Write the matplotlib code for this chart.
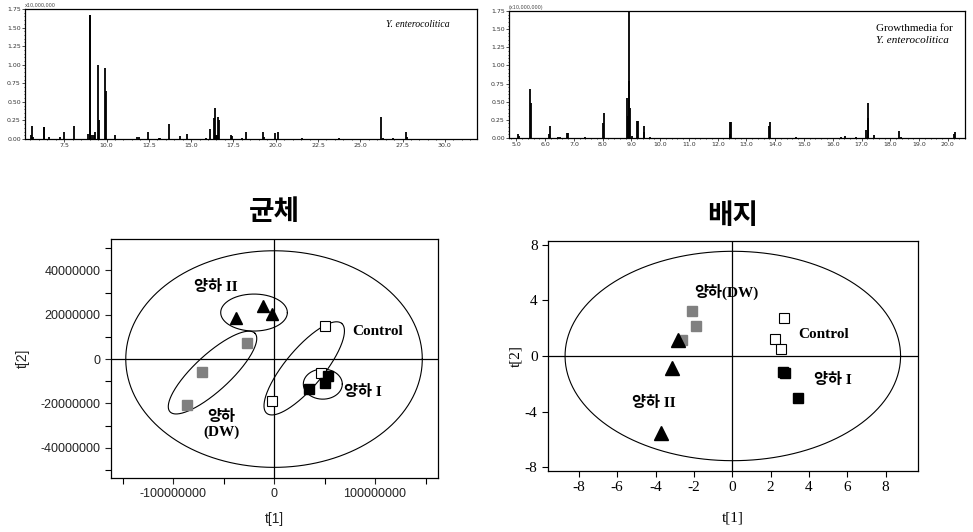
import numpy as np
import matplotlib
matplotlib.use('Agg')
import matplotlib.pyplot as plt
from matplotlib.ticker import MultipleLocator, FuncFormatter

plt.rcParams['axes.unicode_minus'] = False

# Cromatograma: Y. enterocolitica (tiempo, altura x10,000,000)
rt_cell = [5.53, 5.61, 5.65, 6.28, 6.32, 6.59, 7.22, 7.50, 8.09, 8.92, 9.00, 9.04,
           9.13, 9.23, 9.31, 9.51, 9.55, 9.92, 9.96, 10.51, 11.83, 11.89, 12.46,
           13.11, 13.19, 13.70, 14.35, 14.78, 15.91, 16.12, 16.38, 16.42, 16.48,
           16.54, 16.61, 16.65, 17.36, 17.42, 18.01, 18.27, 19.23, 19.31, 19.96,
           20.16, 21.56, 23.72, 26.20, 26.34, 26.95, 27.70, 27.76]
h_cell = [0.05, 0.17, 0.03, 0.16, 0.16, 0.03, 0.03, 0.10, 0.17, 0.07, 1.67, 1.67,
          0.05, 0.06, 0.09, 0.99, 0.25, 0.96, 0.65, 0.06, 0.03, 0.03, 0.09,
          0.02, 0.02, 0.20, 0.04, 0.07, 0.02, 0.13, 0.28, 0.42, 0.06,
          0.06, 0.29, 0.26, 0.06, 0.04, 0.02, 0.10, 0.10, 0.03, 0.08,
          0.10, 0.01, 0.02, 0.29, 0.02, 0.02, 0.10, 0.03]

# Cromatograma: medio de cultivo
rt_media = [5.06, 5.09, 5.46, 5.49, 6.14, 6.17, 6.44, 6.51, 6.77, 6.79, 7.38, 8.01,
            8.03, 8.86, 8.88, 8.90, 8.93, 8.95, 9.01, 9.18, 9.23, 9.42, 9.45, 9.66,
            12.42, 12.44, 12.47, 13.80, 13.83, 14.72, 16.29, 16.42, 16.82, 17.17,
            17.22, 17.24, 17.43, 18.32, 18.36, 20.21, 20.24]
h_media = [0.06, 0.03, 0.68, 0.48, 0.06, 0.17, 0.02, 0.02, 0.07, 0.07, 0.02, 0.21,
           0.34, 0.55, 0.30, 0.78, 1.80, 0.42, 0.03, 0.24, 0.24, 0.08, 0.16, 0.02,
           0.05, 0.22, 0.22, 0.17, 0.22, 0.01, 0.02, 0.03, 0.02, 0.11,
           0.48, 0.27, 0.04, 0.09, 0.02, 0.06, 0.08]

# PCA 균체 (t[1], t[2])
cell_ctrl_x = [5.05e7, 4.62e7, -0.2e7]
cell_ctrl_y = [1.49e7, -0.62e7, -1.90e7]
cell_y1_x = [5.31e7, 5.05e7, 3.47e7]
cell_y1_y = [-0.75e7, -1.07e7, -1.37e7]
cell_y2_x = [-3.79e7, -1.06e7, -0.23e7]
cell_y2_y = [1.84e7, 2.39e7, 2.03e7]
cell_dw_x = [-2.70e7, -7.13e7, -8.61e7]
cell_dw_y = [0.71e7, -0.57e7, -2.06e7]

# PCA 배지
med_ctrl_x = [2.68, 2.21, 2.52]
med_ctrl_y = [2.71, 1.20, 0.48]
med_y1_x = [2.75, 2.65, 3.41]
med_y1_y = [-1.20, -1.15, -3.04]
med_y2_x = [-2.83, -3.16, -3.72]
med_y2_y = [1.15, -0.86, -5.56]
med_dw_x = [-2.12, -1.89, -2.61]
med_dw_y = [3.26, 2.16, 1.13]

# Elipses: centro, semieje mayor (vector), semieje menor (vector)
ell_cell_t2 = [(0, 0), (1.468e8, 0), (0, 4.89e7)]
ell_cell_y2 = [(-1.98e7, 2.10e7), (3.30e7, 0), (0, 0.835e7)]
ell_cell_y1 = [(4.83e7, -1.13e7), (1.93e7, 0), (0, 0.68e7)]
ell_cell_dw = [(-6.09e7, -0.61e7), (4.21e7, 1.77e7), (-1.21e7, 0.60e7)]
ell_cell_ctrl = [(2.99e7, -0.42e7), (3.71e7, 2.03e7), (-1.45e7, 0.55e7)]
ell_med_t2 = [(0.03, 0), (8.75, 0), (0, 7.53)]

CJK = ['Liberation Serif', 'Noto Sans CJK KR']


def draw_ellipse(ax, e):
    t = np.linspace(0, 2 * np.pi, 300)
    c, a, b = np.array(e[0]), np.array(e[1]), np.array(e[2])
    x = c[0] + a[0] * np.cos(t) + b[0] * np.sin(t)
    y = c[1] + a[1] * np.cos(t) + b[1] * np.sin(t)
    ax.plot(x, y, color='black', lw=0.8)


def chrom(ax, rt, h, xlim, step):
    ax.vlines(rt, 0, h, color='black', lw=1.3)
    ax.set_xlim(xlim)
    ax.set_ylim(0, 1.75)
    ax.xaxis.set_major_locator(MultipleLocator(step))
    ax.xaxis.set_minor_locator(MultipleLocator(step / 5))
    ax.yaxis.set_major_locator(MultipleLocator(0.25))
    ax.yaxis.set_minor_locator(MultipleLocator(0.05))
    ax.xaxis.set_major_formatter(FuncFormatter(lambda v, p: '%.1f' % v))
    ax.yaxis.set_major_formatter(FuncFormatter(lambda v, p: '%.2f' % v))
    ax.tick_params(labelsize=4.5, length=2, width=0.6, pad=1, colors='#333333')
    ax.tick_params(which='minor', length=1, width=0.5)
    for s in ax.spines.values():
        s.set_linewidth(0.9)


fig = plt.figure(figsize=(9.73, 5.32), dpi=100)

# Cromatograma izquierdo
ax1 = fig.add_axes([0.0257, 0.7387, 0.4645, 0.2444])
chrom(ax1, rt_cell, h_cell, (5.18, 31.9), 2.5)
ax1.text(0.0, 1.01, 'x10,000,000', transform=ax1.transAxes, fontsize=3.5, color='#444444', va='bottom')
ax1.text(0.94, 0.88, 'Y. enterocolitica', transform=ax1.transAxes, fontsize=7,
         family='Liberation Serif', style='italic', ha='right', va='center')

# Cromatograma derecho
ax2 = fig.add_axes([0.5231, 0.7406, 0.4687, 0.2387])
chrom(ax2, rt_media, h_media, (4.74, 20.6), 1.0)
ax2.text(0.0, 1.01, '(x10,000,000)', transform=ax2.transAxes, fontsize=3.5, color='#444444', va='bottom')
ax2.text(0.805, 0.86, 'Growthmedia for', transform=ax2.transAxes, fontsize=8,
         family='Liberation Serif', ha='left', va='center')
ax2.text(0.805, 0.77, 'Y. enterocolitica', transform=ax2.transAxes, fontsize=8,
         family='Liberation Serif', style='italic', ha='left', va='center')

# PCA 균체
ax3 = fig.add_axes([0.1141, 0.1015, 0.3361, 0.4492])
ax3.set_xlim(-1.614e8, 1.624e8)
ax3.set_ylim(-5.37e7, 5.42e7)
ax3.axhline(0, color='black', lw=0.9)
ax3.axvline(0, color='black', lw=0.9)
for e in [ell_cell_t2, ell_cell_y2, ell_cell_y1, ell_cell_dw, ell_cell_ctrl]:
    draw_ellipse(ax3, e)
ax3.plot(cell_dw_x, cell_dw_y, 's', color='#808080', ms=7, mec='#808080')
ax3.plot(cell_ctrl_x, cell_ctrl_y, 's', mfc='white', mec='black', ms=7, mew=0.8)
ax3.plot(cell_y1_x, cell_y1_y, 's', color='black', ms=7)
ax3.plot(cell_y2_x, cell_y2_y, '^', color='black', ms=9)
ax3.xaxis.set_major_locator(MultipleLocator(1e8))
ax3.xaxis.set_minor_locator(MultipleLocator(5e7))
ax3.yaxis.set_major_locator(MultipleLocator(2e7))
ax3.yaxis.set_minor_locator(MultipleLocator(1e7))
ax3.xaxis.set_major_formatter(FuncFormatter(lambda v, p: '%d' % round(v)))
ax3.yaxis.set_major_formatter(FuncFormatter(lambda v, p: '%d' % round(v)))
ax3.tick_params(labelsize=9, length=4, width=0.8, colors='#222222')
ax3.tick_params(which='minor', length=4, width=0.8)
for lab in ax3.get_xticklabels() + ax3.get_yticklabels():
    lab.set_family('Liberation Sans')
ax3.set_xlabel('t[1]', fontsize=10, family='Liberation Sans', labelpad=8, color='#222222')
ax3.set_ylabel('t[2]', fontsize=10, family='Liberation Sans', labelpad=8, color='#222222')
ax3.set_title('균체', fontsize=20, fontweight='bold', family='Noto Sans CJK KR', pad=14)
ax3.text(-5.74e7, 3.25e7, '양하 II', fontsize=11, fontweight='bold', family=CJK, ha='center', va='center')
ax3.text(1.03e8, 1.25e7, 'Control', fontsize=11, fontweight='bold', family=CJK, ha='center', va='center')
ax3.text(8.8e7, -1.49e7, '양하 I', fontsize=11, fontweight='bold', family=CJK, ha='center', va='center')
ax3.text(-5.25e7, -2.95e7, '양하\n(DW)', fontsize=11, fontweight='bold', family=CJK,
         ha='center', va='center', linespacing=1.1)

# PCA 배지
ax4 = fig.add_axes([0.5632, 0.1147, 0.3803, 0.4323])
ax4.set_xlim(-9.61, 9.69)
ax4.set_ylim(-8.27, 8.27)
ax4.axhline(0, color='black', lw=0.9)
ax4.axvline(0, color='black', lw=0.9)
draw_ellipse(ax4, ell_med_t2)
ax4.plot(med_dw_x, med_dw_y, 's', color='#808080', ms=7, mec='#808080')
ax4.plot(med_ctrl_x, med_ctrl_y, 's', mfc='white', mec='black', ms=7, mew=0.8)
ax4.plot(med_y1_x, med_y1_y, 's', color='black', ms=7)
ax4.plot(med_y2_x, med_y2_y, '^', color='black', ms=10)
ax4.set_xticks(np.arange(-8, 9, 2))
ax4.set_yticks(np.arange(-8, 9, 4))
ax4.tick_params(labelsize=11, length=4, width=0.8)
for lab in ax4.get_xticklabels() + ax4.get_yticklabels():
    lab.set_family('Liberation Serif')
ax4.set_xlabel('t[1]', fontsize=11, family='Liberation Serif', labelpad=12)
ax4.set_ylabel('t[2]', fontsize=11, family='Liberation Serif', labelpad=2)
ax4.set_title('배지', fontsize=20, fontweight='bold', family='Noto Sans CJK KR', pad=12)
ax4.text(-0.33, 4.63, '양하(DW)', fontsize=11, fontweight='bold', family=CJK, ha='center', va='center')
ax4.text(4.78, 1.58, 'Control', fontsize=11, fontweight='bold', family=CJK, ha='center', va='center')
ax4.text(5.24, -1.73, '양하 I', fontsize=11, fontweight='bold', family=CJK, ha='center', va='center')
ax4.text(-4.08, -3.38, '양하 II', fontsize=11, fontweight='bold', family=CJK, ha='center', va='center')

for ax in [ax3, ax4]:
    for s in ax.spines.values():
        s.set_linewidth(0.9)

fig.savefig('out.png', dpi=100)
